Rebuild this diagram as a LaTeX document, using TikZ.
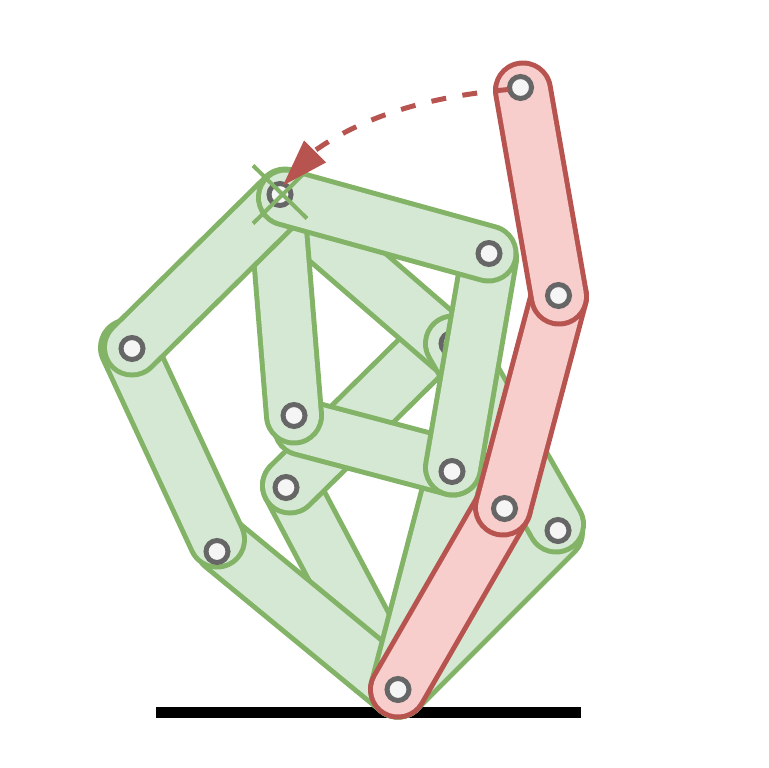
\documentclass[tikz,border=0pt]{standalone}
\definecolor{GF}{RGB}{213, 232, 212}
\definecolor{GL}{RGB}{130, 179, 102}
\definecolor{RF}{RGB}{248, 206, 204}
\definecolor{RL}{RGB}{184, 84, 80}
\definecolor{PF}{RGB}{245, 245, 245}
\definecolor{PL}{RGB}{102, 102, 102}
\tikzset{
  goutline/.style={line width=60pt,line cap=round,draw=GL},
  gfilling/.style={line width=50pt,line cap=round,draw=GF},
  routline/.style={line width=60pt,line cap=round,draw=RL},
  rfilling/.style={line width=50pt,line cap=round,draw=RF},
  pinring/.style={draw=PL,fill=PF,line width=5pt},
  crossmark/.style={draw=GL,line width=4pt},
  swingpath/.style={draw=RL,line width=5pt,dash pattern=on 15pt off 16.5pt}
}
\newcommand{\linkG}[2]{\draw[goutline] (#1) -- (#2); \draw[gfilling] (#1) -- (#2);}
\newcommand{\linkR}[2]{\draw[routline] (#1) -- (#2); \draw[rfilling] (#1) -- (#2);}
\newcommand{\pinat}[1]{\draw[pinring] #1 circle (11pt);}
\begin{document}
\begin{tikzpicture}[x=1pt,y=-1pt]
	\useasboundingbox (0,-0.5) rectangle (769,767.5);

	%Puntos de articulacion
	\coordinate (base) at (398,689);
	\coordinate (hipA) at (555,532);
	\coordinate (hipB) at (290,485);
	\coordinate (hipC) at (438,339);
	\coordinate (kneeA) at (223,545);
	\coordinate (kneeB) at (217,539);
	\coordinate (midA) at (455,471);
	\coordinate (midB) at (302,427);
	\coordinate (midC) at (453,467);
	\coordinate (topA) at (290,207);
	\coordinate (topB) at (452,347);
	\coordinate (sideA) at (453,343);
	\coordinate (sideB) at (556,524);
	\coordinate (topC) at (277,205);
	\coordinate (innerA) at (294,415);
	\coordinate (outerA) at (128,347);
	\coordinate (outerB) at (132,347);
	\coordinate (topD) at (285,196);
	\coordinate (endA) at (489,258);
	\coordinate (topE) at (286,197);
	\coordinate (endB) at (488.5,253);
	\coordinate (redA) at (503,507);
	\coordinate (redB) at (559,296);
	\coordinate (redC) at (523,90);

	%Barra del suelo
	\fill[color=black] (156,706) rectangle (581,717);

	%Barras verdes, el orden importa
	\linkG{base}{hipA}
	\linkG{base}{hipB}
	\linkG{hipB}{hipC}
	\pinat{(286,487)}
	\linkG{base}{kneeA}
	\linkG{base}{midA}
	\linkG{midB}{midC}
	\linkG{topA}{topB}
	\linkG{sideA}{sideB}
	\pinat{(452,343)}
	\pinat{(558,530)}
	\linkG{topC}{innerA}
	\pinat{(294,415)}
	\linkG{outerA}{kneeB}
	\pinat{(217,551)}
	\linkG{outerB}{topD}
	\pinat{(132,348)}
	\linkG{midC}{endA}
	\pinat{(452,471)}
	\linkG{topE}{endB}
	\pinat{(280,194)}
	\pinat{(489,253)}

	%Barras rojas
	\linkR{base}{redA}
	\pinat{(398,689)}
	\linkR{redA}{redB}
	\pinat{(504.5,508)}
	\linkR{redB}{redC}
	\pinat{(558.5,295)}
	\pinat{(520.5,87)}

	%Marca en forma de X
	\draw[crossmark] (253,165) -- (307,218);
	\draw[crossmark] (253,223) -- (307,170);

	%Trayectoria punteada y punta de flecha
	\draw[swingpath] (508.5,89) .. controls (430,96) and (365,115) .. (315,150);
	\fill[color=RL] (283,185) -- (304,140) -- (326,162) -- cycle;
\end{tikzpicture}
\end{document}
